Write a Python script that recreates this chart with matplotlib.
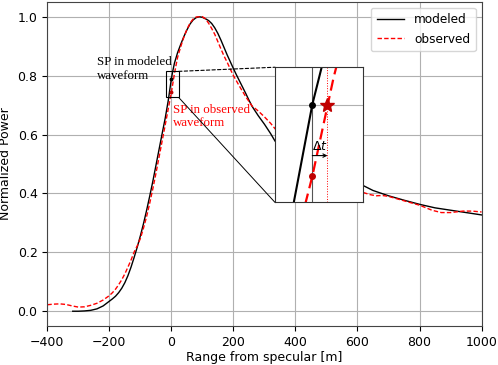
import matplotlib
matplotlib.use("Agg")
import matplotlib.pyplot as plt
from matplotlib.patches import Rectangle, ConnectionPatch

# ---- data ----
mod_x = [-318, -300, -280, -260, -240, -220, -200, -190, -180, -170, -160, -150, -140,
         -130, -120, -110, -100, -90, -80, -70, -60, -50, -40, -30, -20, -10, 0,
         5, 10, 20, 30, 40, 50, 60, 70, 80, 90, 100, 110, 120, 130, 140, 150, 160,
         170, 180, 190, 200, 210, 220, 230, 240, 250, 260, 280, 300, 320, 334,
         360, 400, 450, 500, 550, 600, 616, 650, 700, 750, 800, 850, 900, 950, 1000]
mod_y = [0.000, 0.000, 0.001, 0.003, 0.008, 0.018, 0.034, 0.042, 0.051, 0.063, 0.078, 0.097, 0.121,
         0.150, 0.183, 0.218, 0.256, 0.297, 0.342, 0.390, 0.440, 0.494, 0.548, 0.602, 0.655, 0.716, 0.790,
         0.818, 0.843, 0.878, 0.906, 0.932, 0.955, 0.975, 0.989, 0.997, 1.000, 0.998, 0.993, 0.987, 0.977, 0.962, 0.943, 0.920,
         0.895, 0.870, 0.847, 0.824, 0.802, 0.781, 0.760, 0.739, 0.717, 0.696, 0.664, 0.635, 0.603, 0.578,
         0.545, 0.508, 0.478, 0.458, 0.445, 0.433, 0.428, 0.410, 0.392, 0.377, 0.363, 0.351, 0.343, 0.335, 0.327]

obs_x = [-400, -380, -360, -340, -320, -300, -280, -260, -240, -220, -200, -190, -180, -170,
         -160, -150, -140, -130, -120, -110, -100, -90, -80, -70, -60, -50, -40, -30, -20,
         -10, 0, 10, 20, 30, 40, 50, 60, 70, 80, 90, 100, 110, 120, 130, 140, 150, 160,
         170, 180, 190, 200, 220, 240, 260, 280, 300, 320, 334, 400, 500, 600, 616, 640,
         660, 680, 700, 750, 800, 840, 870, 900, 940, 970, 1000]
obs_y = [0.022, 0.024, 0.025, 0.023, 0.018, 0.014, 0.015, 0.020, 0.027, 0.038, 0.053, 0.063, 0.075, 0.090,
         0.107, 0.127, 0.150, 0.174, 0.201, 0.222, 0.247, 0.282, 0.321, 0.366, 0.415, 0.467, 0.522, 0.577, 0.632,
         0.688, 0.743, 0.808, 0.862, 0.898, 0.930, 0.957, 0.978, 0.992, 0.999, 1.000, 1.000, 0.993, 0.978, 0.960, 0.940, 0.915, 0.890,
         0.866, 0.845, 0.822, 0.800, 0.763, 0.728, 0.697, 0.680, 0.660, 0.638, 0.620, 0.535, 0.455, 0.412, 0.404, 0.396,
         0.392, 0.393, 0.390, 0.375, 0.360, 0.343, 0.335, 0.335, 0.340, 0.340, 0.337]

labels = ["modeled", "observed"]
sp_mod = (0.0, 0.790)
sp_obs = (0.0, 0.743)
star = (7.1, 0.790)
zoom_x = (-17.5, 23.5)
zoom_y = (0.726, 0.8145)

serif = ["Liberation Serif", "DejaVu Serif"]

fig = plt.figure(figsize=(4.98, 3.65), dpi=100)
ax = fig.add_axes([0.095, 0.107, 0.872, 0.8875])

ax.plot(mod_x, mod_y, color="black", lw=1.0, label=labels[0])
ax.plot(obs_x, obs_y, color="red", lw=1.0, ls=(0, (3.2, 1.6)), label=labels[1])
ax.plot(*sp_mod, "o", color="black", ms=1.8)
ax.plot(*sp_obs, "o", color="#c00000", ms=1.8)

ax.set_xlim(-400, 1000)
ax.set_ylim(-0.05, 1.05)
ax.set_xticks([-400, -200, 0, 200, 400, 600, 800, 1000])
ax.set_yticks([0.0, 0.2, 0.4, 0.6, 0.8, 1.0])
ax.grid(True, color="#b0b0b0", lw=0.8)
ax.tick_params(labelsize=9)
ax.set_xlabel("Range from specular [m]", fontsize=9, labelpad=2)
ax.set_ylabel("Normalized Power", fontsize=9, labelpad=4)
for s in ax.spines.values():
    s.set_color("#444444")

ax.legend(loc="upper right", fontsize=8.7, handlelength=2.3, borderpad=0.45,
          labelspacing=0.5, framealpha=0.8)

ax.text(-241, 0.865, "SP in modeled\nwaveform", family=serif, fontsize=9.3,
        color="black", va="top", ha="left", linespacing=1.15)
ax.text(4, 0.705, "SP in observed\nwaveform", family=serif, fontsize=9.3,
        color="red", va="top", ha="left", linespacing=1.15)

ax.add_patch(Rectangle((zoom_x[0], zoom_y[0]), zoom_x[1] - zoom_x[0], zoom_y[1] - zoom_y[0],
                       fill=False, edgecolor="black", lw=0.8, zorder=5))

# inset
ins = fig.add_axes([0.552, 0.4458, 0.176, 0.370])
ins.plot(mod_x, mod_y, color="black", lw=1.5)
ins.plot(obs_x, obs_y, color="red", lw=1.6, ls=(0, (5, 2.5)))
ins.axhline(star[1], color="#b0b0b0", lw=0.8, zorder=0)
ins.axvline(sp_mod[0], color="#555555", lw=0.8, zorder=0)
ins.axvline(star[0], color="red", lw=0.7, ls=":", zorder=0)
ins.plot(*sp_mod, "o", color="black", ms=4)
ins.plot(*sp_obs, "o", color="#c00000", ms=4)
ins.plot(*star, "*", color="#c00000", ms=10)
ins.annotate("", xy=(star[0], 0.7566), xytext=(sp_mod[0], 0.7566),
             arrowprops=dict(arrowstyle="->", color="black", lw=0.8,
                             shrinkA=0, shrinkB=0, mutation_scale=6))
ins.text(3.6, 0.7585, r"$\Delta t$", fontsize=9, ha="center", va="bottom",
         family=serif)
ins.set_xlim(*zoom_x)
ins.set_ylim(*zoom_y)
ins.set_xticks([])
ins.set_yticks([])
for s in ins.spines.values():
    s.set_color("#333333")

# connectors
c1 = ConnectionPatch(xyA=(zoom_x[1], zoom_y[1]), coordsA=ax.transData,
                     xyB=(0, 1), coordsB=ins.transAxes, color="black", lw=0.8,
                     ls=(0, (3, 2)))
c2 = ConnectionPatch(xyA=(zoom_x[1], zoom_y[0]), coordsA=ax.transData,
                     xyB=(0, 0), coordsB=ins.transAxes, color="black", lw=0.7)
fig.add_artist(c1)
fig.add_artist(c2)

fig.savefig("out.png", dpi=100)
